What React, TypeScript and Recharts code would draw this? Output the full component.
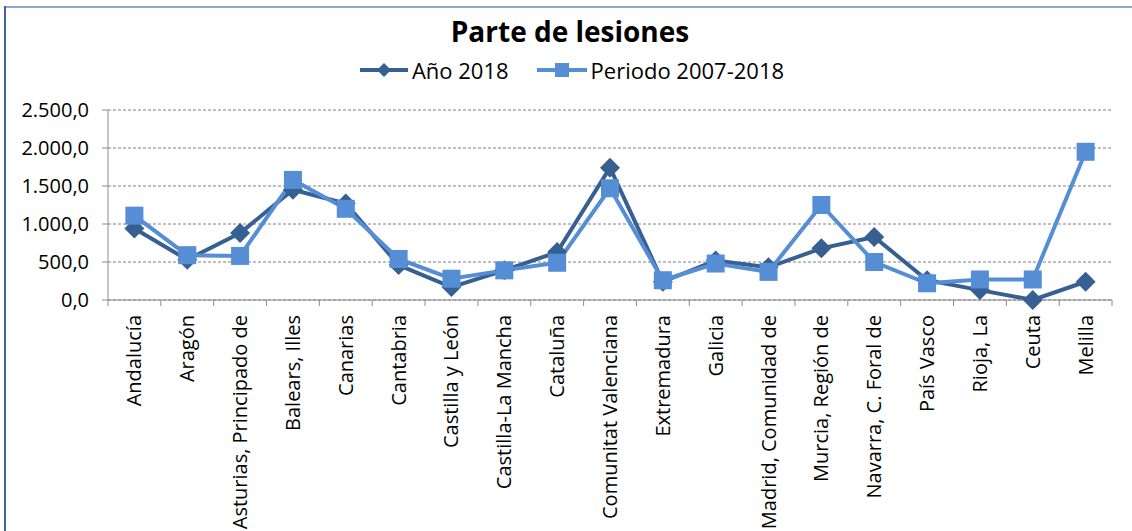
import React from 'react';
import { LineChart, Line, XAxis, YAxis, CartesianGrid, Legend } from 'recharts';

const categories = [
  'Andalucía', 'Aragón', 'Asturias, Principado de', 'Balears, Illes', 'Canarias', 'Cantabria',
  'Castilla y León', 'Castilla-La Mancha', 'Cataluña', 'Comunitat Valenciana', 'Extremadura',
  'Galicia', 'Madrid, Comunidad de', 'Murcia,  Región de', 'Navarra, C. Foral de', 'País Vasco',
  'Rioja, La', 'Ceuta', 'Melilla',
];
const ano2018 = [940, 530, 880, 1450, 1270, 460, 170, 390, 630, 1740, 240, 520, 430, 680, 830, 260, 130, 0, 240];
const periodo20072018 = [1110, 590, 580, 1580, 1200, 540, 280, 390, 490, 1470, 260, 480, 370, 1250, 500, 220, 270, 270, 1950];
const yTicks = [0, 500, 1000, 1500, 2000, 2500];
const seriesNames = ['Año 2018', 'Periodo 2007-2018'];
const title = 'Parte de lesiones';

const data = categories.map((c, i) => ({ name: c, a: ano2018[i], p: periodo20072018[i] }));

const DARK = '#376092';
const LIGHT = '#558ED5';
const FONT = '"Open Sans", "Noto Sans", sans-serif';
const HALF = 26.4;

const fmt = (v: number) => {
  const s = v.toFixed(1);
  const [int, dec] = s.split('.');
  return int.replace(/\B(?=(\d{3})+(?!\d))/g, '.') + ',' + dec;
};

const Diamond = (props: any) => {
  const { cx, cy } = props;
  if (cx == null || cy == null) return null;
  const r = 10;
  return (
    <polygon
      points={`${cx},${cy - r} ${cx + r},${cy} ${cx},${cy + r} ${cx - r},${cy}`}
      fill={DARK}
    />
  );
};

const Square = (props: any) => {
  const { cx, cy } = props;
  if (cx == null || cy == null) return null;
  const s = 18;
  return <rect x={cx - s / 2} y={cy - s / 2} width={s} height={s} fill={LIGHT} />;
};

const XTick = (props: any) => {
  const { x, y, payload, index } = props;
  const last = index === categories.length - 1;
  return (
    <g>
      <line x1={x - HALF} x2={x - HALF} y1={y - 6} y2={y} stroke="#8c8c8c" strokeWidth={1} />
      {last && <line x1={x + HALF} x2={x + HALF} y1={y - 6} y2={y} stroke="#8c8c8c" strokeWidth={1} />}
      <text
        x={0}
        y={0}
        transform={`translate(${x},${y + 9}) rotate(-90)`}
        textAnchor="end"
        dy="0.35em"
        fontFamily={FONT}
        fontSize={20}
        fill="#000"
      >
        {payload.value}
      </text>
    </g>
  );
};

const LegendContent = () => (
  <div
    style={{
      display: 'flex',
      justifyContent: 'center',
      alignItems: 'center',
      fontFamily: FONT,
      fontSize: 22,
      color: '#000',
      paddingLeft: 12,
    }}
  >
    <svg width={48} height={24} style={{ marginRight: 4 }}>
      <line x1={0} x2={48} y1={12} y2={12} stroke={DARK} strokeWidth={4} />
      <polygon points="24,5 31,12 24,19 17,12" fill={DARK} />
    </svg>
    <span style={{ marginRight: 28 }}>{seriesNames[0]}</span>
    <svg width={50} height={24} style={{ marginRight: 4 }}>
      <line x1={0} x2={50} y1={12} y2={12} stroke={LIGHT} strokeWidth={4} />
      <rect x={18} y={5} width={14} height={14} fill={LIGHT} />
    </svg>
    <span>{seriesNames[1]}</span>
  </div>
);

export default function App() {
  return (
    <div
      style={{
        position: 'absolute',
        left: 0,
        top: 0,
        width: 1132,
        height: 531,
        background: '#fff',
        overflow: 'hidden',
      }}
    >
      <div style={{ position: 'absolute', left: 4, top: 6, width: 1128, height: 2, background: '#8EA9D0' }} />
      <div style={{ position: 'absolute', left: 4, top: 6, width: 2, height: 525, background: '#3B64A0' }} />
      <div
        style={{
          position: 'absolute',
          left: 8,
          top: 12,
          width: 1124,
          textAlign: 'center',
          fontFamily: FONT,
          fontWeight: 700,
          fontSize: 28,
          color: '#000',
        }}
      >
        {title}
      </div>
      <LineChart
        width={1132}
        height={531}
        data={data}
        margin={{ top: 110, right: 20, bottom: 31, left: 0 }}
      >
        <CartesianGrid vertical={false} stroke="#808080" strokeDasharray="3 2" />
        <XAxis
          dataKey="name"
          interval={0}
          height={200}
          padding={{ left: HALF, right: HALF }}
          tickLine={false}
          tickSize={6}
          tickMargin={0}
          tick={<XTick />}
          axisLine={{ stroke: '#8c8c8c', strokeWidth: 1 }}
        />
        <YAxis
          width={108}
          domain={[0, 2500]}
          ticks={yTicks}
          tickFormatter={fmt}
          tickSize={6}
          tickMargin={13}
          tickLine={{ stroke: '#8c8c8c' }}
          axisLine={{ stroke: '#8c8c8c', strokeWidth: 1 }}
          tick={{ fontFamily: FONT, fontSize: 20, fill: '#000' }}
        />
        <Legend
          verticalAlign="middle"
          align="center"
          layout="horizontal"
          content={<LegendContent />}
          wrapperStyle={{ top: 55, left: 0, width: 1132 }}
        />
        <Line
          dataKey="a"
          name={seriesNames[0]}
          stroke={DARK}
          strokeWidth={4}
          dot={<Diamond />}
          activeDot={false}
          isAnimationActive={false}
        />
        <Line
          dataKey="p"
          name={seriesNames[1]}
          stroke={LIGHT}
          strokeWidth={4}
          dot={<Square />}
          activeDot={false}
          isAnimationActive={false}
        />
      </LineChart>
    </div>
  );
}
